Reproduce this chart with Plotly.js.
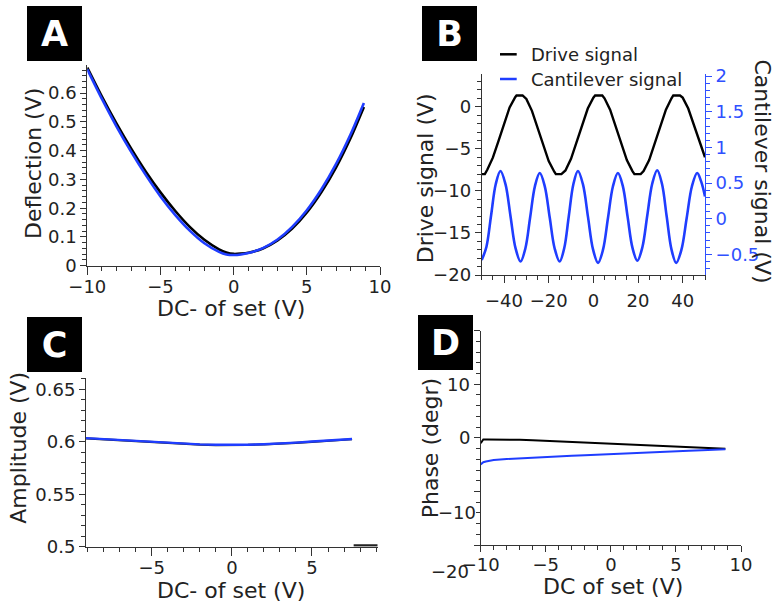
<!DOCTYPE html>
<html>
<head>
<meta charset="utf-8">
<script src="https://cdn.plot.ly/plotly-3.0.1.min.js"></script>
<style>html,body{margin:0;padding:0;background:#fff}#chart{width:774px;height:602px}</style>
</head>
<body>
<div id="chart"></div>
<script>
// ---------- Panel A : deflection vs DC offset ----------
const defX = [-10,-9,-8,-7,-6,-5,-4,-3,-2,-1,-0.5,0,0.5,1,2,3,4,5,6,7,8,8.9];
const defBlack = [0.689,0.588,0.494,0.407,0.327,0.255,0.191,0.135,0.090,0.057,0.046,0.041,0.042,0.045,0.060,0.088,0.129,0.185,0.256,0.342,0.445,0.552];
const defBlue  = [0.683,0.580,0.484,0.396,0.315,0.241,0.177,0.122,0.078,0.048,0.039,0.037,0.039,0.044,0.061,0.091,0.135,0.193,0.266,0.354,0.458,0.566];

// ---------- Panel B : drive and cantilever signals ----------
const driveX = [-50,-48.6,-47.5,-45,-42.5,-40,-37.5,-35,-34.4,-31.7,-30,-27.5,-25,-22.5,-20,-17.5,-16.8,-14.3,-12.5,-10,-7.5,-5,-2.5,0,0.8,4.0,5,7.5,10,12.5,15,17.5,18.4,21.2,22.5,25,27.5,30,32.5,35,35.8,38.8,40,42.5,45,47.5,50];
const driveY = [-8.0,-8.0,-7.49,-6.05,-4.07,-1.94,-0.08,1.15,1.35,1.35,0.93,-0.48,-2.45,-4.57,-6.46,-7.72,-8.0,-8.0,-7.57,-6.19,-4.24,-2.11,-0.21,1.09,1.35,1.35,1.01,-0.35,-2.27,-4.41,-6.33,-7.65,-8.0,-8.0,-7.65,-6.33,-4.41,-2.27,-0.35,1.01,1.35,1.35,1.09,-0.21,-2.11,-4.24,-6.0];
const cantX = [-50,-47.9,-45.8,-43.7,-41.6,-39.35,-37.1,-34.85,-32.6,-30.45,-28.3,-26.15,-24.0,-21.78,-19.55,-17.33,-15.1,-13.05,-11.0,-8.95,-6.9,-4.65,-2.4,-0.15,2.1,4.33,6.55,8.78,11.0,13.18,15.35,17.53,19.7,21.93,24.15,26.38,28.6,30.73,32.85,34.98,37.1,39.45,41.8,44.15,46.5,48.3,50];
const cantY = [-0.58,-0.397,0.045,0.487,0.67,0.484,0.035,-0.414,-0.60,-0.418,0.02,0.458,0.64,0.458,0.02,-0.418,-0.60,-0.414,0.035,0.484,0.67,0.481,0.025,-0.431,-0.62,-0.435,0.01,0.455,0.64,0.46,0.025,-0.41,-0.59,-0.404,0.045,0.494,0.68,0.49,0.03,-0.43,-0.62,-0.435,0.01,0.455,0.64,0.52,0.31];

// ---------- Panel C : amplitude ----------
const ampX = [-9.1,-8,-7,-6,-5,-4,-3,-2,-1,0,1,2,3,4,5,6,7,7.5];
const ampBlue  = [0.6035,0.6025,0.6015,0.6005,0.5995,0.5987,0.5980,0.5975,0.5971,0.5970,0.5972,0.5977,0.5982,0.5992,0.6002,0.6011,0.6021,0.6026];
const ampBlackX = [-9.1,-8,-7,-6,-5,-4,-3,-2,-1,0,1,2,3,4,5,6,7,7.5,null,7.6,9.1];
const ampBlack  = [0.6033,0.6023,0.6012,0.6002,0.5993,0.5985,0.5978,0.5973,0.5969,0.5968,0.5970,0.5975,0.5980,0.5990,0.6000,0.6009,0.6019,0.6024,null,0.5012,0.5012];

// ---------- Panel D : phase ----------
const phBlackX = [-10,-9.9,-9.8,-9.5,-9,-8,-7,-6,-5,-4,-3,-2,-1,0,1,2,3,4,5,6,7,8,8.8];
const phBlack  = [-1.0,-0.5,-0.3,-0.3,-0.3,-0.33,-0.37,-0.45,-0.55,-0.67,-0.8,-0.92,-1.05,-1.15,-1.25,-1.35,-1.45,-1.55,-1.65,-1.75,-1.85,-1.95,-2.05];
const phBlueX = [-10,-9.9,-9.8,-9.6,-9.3,-9,-8,-7,-6,-5,-4,-3,-2,-1,0,1,2,3,4,5,6,7,8,8.8];
const phBlue  = [-4.95,-4.7,-4.55,-4.4,-4.25,-4.15,-3.95,-3.8,-3.68,-3.56,-3.45,-3.34,-3.23,-3.11,-3.0,-2.89,-2.78,-2.67,-2.57,-2.48,-2.39,-2.3,-2.2,-2.12];

// D y tick labels (drawn as text because they are displaced in the original)
const phTickText = ["10","0","\u221210","\u221220"];

// ---------- helpers ----------
const W = 774, H = 602;
const px = x => x / W;
const py = y => 1 - y / H;
const FONT = "DejaVu Sans";
const AX = '#333', TXT = '#222', BLUE = '#1f3dff', BLUEAX = '#2f50ff';

function axis(dom, range, dtick, minor, anchor, len, extra) {
  return Object.assign({
    domain: dom, range: range, anchor: anchor,
    showline: true, linecolor: AX, linewidth: 1,
    ticks: 'outside', ticklen: len, tickcolor: AX, tickwidth: 1,
    dtick: dtick, tick0: 0,
    minor: {dtick: minor, tick0: 0, ticks: 'outside', ticklen: 4, tickcolor: AX, tickwidth: 1, showgrid: false},
    tickfont: {family: FONT, size: 18, color: TXT},
    showgrid: false, zeroline: false, fixedrange: true
  }, extra || {});
}

const traces = [
  {x: defX, y: defBlack, xaxis: 'x', yaxis: 'y', mode: 'lines', line: {color: '#000', width: 2.6, shape: 'spline', smoothing: 0.8}},
  {x: defX, y: defBlue, xaxis: 'x', yaxis: 'y', mode: 'lines', line: {color: BLUE, width: 2.6, shape: 'spline', smoothing: 0.8}},
  {x: driveX, y: driveY, xaxis: 'x2', yaxis: 'y2', mode: 'lines', line: {color: '#000', width: 2.4}},
  {x: cantX, y: cantY, xaxis: 'x2', yaxis: 'y3', mode: 'lines', line: {color: BLUE, width: 2.6, shape: 'spline', smoothing: 1}},
  {x: ampBlackX, y: ampBlack, xaxis: 'x3', yaxis: 'y4', mode: 'lines', connectgaps: false, line: {color: '#222', width: 2.2}},
  {x: ampX, y: ampBlue, xaxis: 'x3', yaxis: 'y4', mode: 'lines', line: {color: BLUE, width: 2.4}},
  {x: phBlackX, y: phBlack, xaxis: 'x4', yaxis: 'y5', mode: 'lines', line: {color: '#000', width: 2}},
  {x: phBlueX, y: phBlue, xaxis: 'x4', yaxis: 'y5', mode: 'lines', line: {color: BLUE, width: 2}}
];

function title(text, x, y, angle, color) {
  return {text: text, x: px(x), y: py(y), xref: 'paper', yref: 'paper', showarrow: false,
    xanchor: 'center', yanchor: 'middle', textangle: angle || 0,
    font: {family: FONT, size: 22, color: color || TXT}};
}
function box(letter, x, y) {
  return {text: '<b>' + letter + '</b>', x: px(x), y: py(y), xref: 'paper', yref: 'paper', showarrow: false,
    xanchor: 'left', yanchor: 'top', width: 55, height: 55, bgcolor: '#000', borderpad: 0, borderwidth: 0,
    font: {family: FONT, size: 35, color: '#fff'}};
}
function label(text, x, y, anchor, size) {
  return {text: text, x: px(x), y: py(y), xref: 'paper', yref: 'paper', showarrow: false,
    xanchor: anchor || 'left', yanchor: 'middle', font: {family: FONT, size: size || 18, color: TXT}};
}

const layout = {
  width: W, height: H, margin: {l: 0, r: 0, t: 0, b: 0},
  paper_bgcolor: '#fff', plot_bgcolor: 'rgba(0,0,0,0)', showlegend: false,
  font: {family: FONT, color: TXT},
  // A
  xaxis: axis([px(87.3), px(380)], [-10, 10], 5, 1, 'y', 8, {ticklabelstandoff: -3}),
  yaxis: axis([py(265.7), py(65)], [0, 0.698], 0.1, 0.02, 'x', 6),
  // B
  xaxis2: axis([px(481.7), px(705)], [-50, 50], 20, 5, 'y2', 7, {ticklabelstandoff: 2}),
  yaxis2: axis([py(275), py(74)], [-20, 3.9], 5, 1, 'x2', 6),
  yaxis3: axis([py(275), py(74)], [-0.79, 2.03], 0.5, 0.1, 'x2', 6,
    {overlaying: 'y2', side: 'right', linecolor: BLUEAX, tickcolor: BLUEAX,
     tickfont: {family: FONT, size: 18, color: BLUEAX},
     minor: {dtick: 0.1, tick0: 0, ticks: 'outside', ticklen: 4, tickcolor: BLUEAX, tickwidth: 1, showgrid: false}}),
  // C
  xaxis3: axis([px(86), px(377.7)], [-9.1, 9.1], 5, 1, 'y4', 8, {ticklabelstandoff: -3}),
  yaxis4: axis([py(546.7), py(378.3)], [0.5, 0.6605], 0.05, 0.01, 'x3', 6),
  // D
  xaxis4: axis([px(480.7), px(741)], [-10, 10], 5, 1, 'y5', 6, {ticklabelstandoff: -3}),
  yaxis5: axis([py(545), py(330.7)], [-20, 20], 10, 2, 'x4', 6, {showticklabels: false}),
  shapes: [
    {type: 'line', xref: 'paper', yref: 'paper', x0: px(500), x1: px(516.7), y0: py(54.3), y1: py(54.3), line: {color: '#000', width: 2.5}},
    {type: 'line', xref: 'paper', yref: 'paper', x0: px(500), x1: px(516.7), y0: py(79), y1: py(79), line: {color: BLUE, width: 2.5}}
  ],
  annotations: [
    // axis titles
    title('Deflection (V)', 33.3, 163.7, -90),
    title('DC- of set (V)', 231, 308),
    title('Drive signal (V)', 425, 178.3, -90),
    title('Cantilever signal (V)', 762.5, 171, 90),
    title('Amplitude (V)', 18.3, 447.5, -90),
    title('DC- of set (V)', 231, 590),
    title('Phase (degr)', 430, 448.3, -90),
    title('DC of set (V)', 612.5, 586),
    // legend text
    label('Drive signal', 529, 54.3),
    label('Cantilever signal', 529, 79),
    // D y tick labels
    label(phTickText[0], 472, 384, 'right'),
    label(phTickText[1], 472, 437.7, 'right'),
    label(phTickText[2], 478, 512.7, 'right'),
    label(phTickText[3], 471, 571.7, 'right'),
    // panel letters
    box('A', 27, 6), box('B', 421.7, 6), box('C', 27, 316.7), box('D', 417.7, 315)
  ]
};

Plotly.newPlot('chart', traces, layout, {displayModeBar: false, staticPlot: true});
</script>
</body>
</html>
